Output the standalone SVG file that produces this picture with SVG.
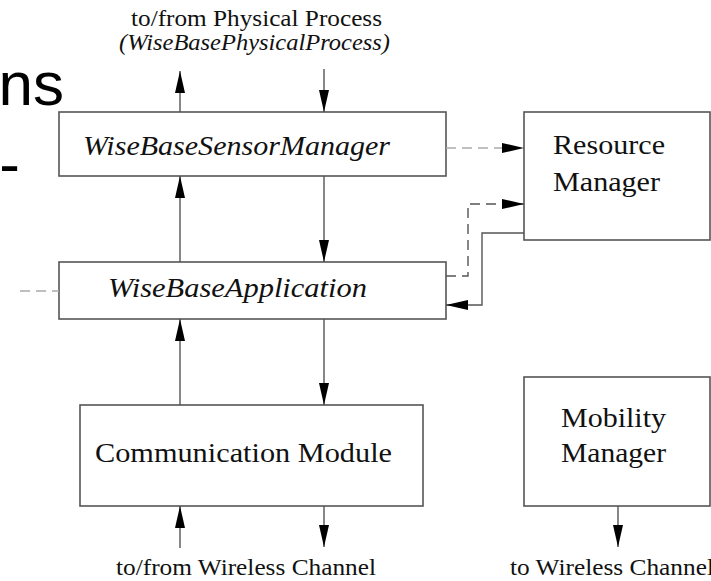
<svg xmlns="http://www.w3.org/2000/svg" width="711" height="581" viewBox="0 0 711 581">
<style>
  .box { fill: #fff; stroke: #555; stroke-width: 1.6; }
  text.t { font-family: 'Liberation Serif', 'DejaVu Serif', serif; fill: #111; }
  .m { font-size: 28px; }
  .s { font-size: 23px; }
  .i { font-style: italic; }
  .ln { fill: none; stroke: #555; stroke-width: 1.4; }
  .dl { fill: none; stroke: #aaa; stroke-width: 1.6; stroke-dasharray: 10 6; }
  .dd { fill: none; stroke: #555; stroke-width: 1.4; stroke-dasharray: 10 6; }
  text.big { font-family: 'Liberation Sans', Arial, sans-serif; font-size: 62px; fill: #000; }
</style>
<defs>
  <marker id="ah" markerUnits="userSpaceOnUse" markerWidth="22" markerHeight="10" refX="22" refY="5" orient="auto" viewBox="0 0 22 10">
    <path d="M0,0 L22,5 L0,10 z" fill="#000"/>
  </marker>
</defs>
<g id="background-text">
  <text class="big" x="64" y="105" text-anchor="end">ns</text>
  <text class="big" x="20" y="185" text-anchor="end">-</text>
</g>
<g id="sensor-manager">
  <rect class="box" x="59" y="112" width="387" height="64"/>
  <text class="t m i" x="83" y="155" textLength="307" lengthAdjust="spacingAndGlyphs">WiseBaseSensorManager</text>
</g>
<g id="application">
  <rect class="box" x="59" y="262" width="387" height="57"/>
  <text class="t m i" x="108" y="297" textLength="259" lengthAdjust="spacingAndGlyphs">WiseBaseApplication</text>
</g>
<g id="communication-module">
  <rect class="box" x="80" y="405" width="343" height="101"/>
  <text class="t m" x="95" y="462" textLength="297" lengthAdjust="spacingAndGlyphs">Communication Module</text>
</g>
<g id="resource-manager">
  <rect class="box" x="524" y="112" width="186" height="128"/>
  <text class="t m" x="553" y="154" textLength="112" lengthAdjust="spacingAndGlyphs">Resource</text>
  <text class="t m" x="553" y="191" textLength="107" lengthAdjust="spacingAndGlyphs">Manager</text>
</g>
<g id="mobility-manager">
  <rect class="box" x="524" y="377" width="186" height="129"/>
  <text class="t m" x="561" y="427" textLength="105" lengthAdjust="spacingAndGlyphs">Mobility</text>
  <text class="t m" x="561" y="462" textLength="105" lengthAdjust="spacingAndGlyphs">Manager</text>
</g>
<g id="labels">
  <text class="t s" x="131" y="26" textLength="251" lengthAdjust="spacingAndGlyphs">to/from Physical Process</text>
  <text class="t s i" x="119" y="50" textLength="271" lengthAdjust="spacingAndGlyphs">(WiseBasePhysicalProcess)</text>
  <text class="t s" x="116" y="575" textLength="260" lengthAdjust="spacingAndGlyphs">to/from Wireless Channel</text>
  <text class="t s" x="510" y="575" textLength="204" lengthAdjust="spacingAndGlyphs">to Wireless Channel</text>
</g>
<g id="connectors">
  <line class="ln" x1="180" y1="112" x2="180" y2="71" marker-end="url(#ah)"/>
  <line class="ln" x1="324" y1="69" x2="324" y2="112" marker-end="url(#ah)"/>
  <line class="ln" x1="180" y1="262" x2="180" y2="176" marker-end="url(#ah)"/>
  <line class="ln" x1="324" y1="176" x2="324" y2="262" marker-end="url(#ah)"/>
  <line class="ln" x1="180" y1="405" x2="180" y2="319" marker-end="url(#ah)"/>
  <line class="ln" x1="324" y1="319" x2="324" y2="405" marker-end="url(#ah)"/>
  <line class="ln" x1="180" y1="548" x2="180" y2="506" marker-end="url(#ah)"/>
  <line class="ln" x1="324" y1="506" x2="324" y2="547" marker-end="url(#ah)"/>
  <line class="ln" x1="618" y1="506" x2="618" y2="547" marker-end="url(#ah)"/>
  <line class="dl" x1="446" y1="148" x2="524" y2="148" marker-end="url(#ah)"/>
  <polyline class="dd" points="446,276 468,276 468,204 524,204" marker-end="url(#ah)"/>
  <polyline class="ln" points="524,233 482,233 482,305 446,305" marker-end="url(#ah)"/>
  <line class="dl" x1="20" y1="291" x2="59" y2="291"/>
</g>
</svg>
